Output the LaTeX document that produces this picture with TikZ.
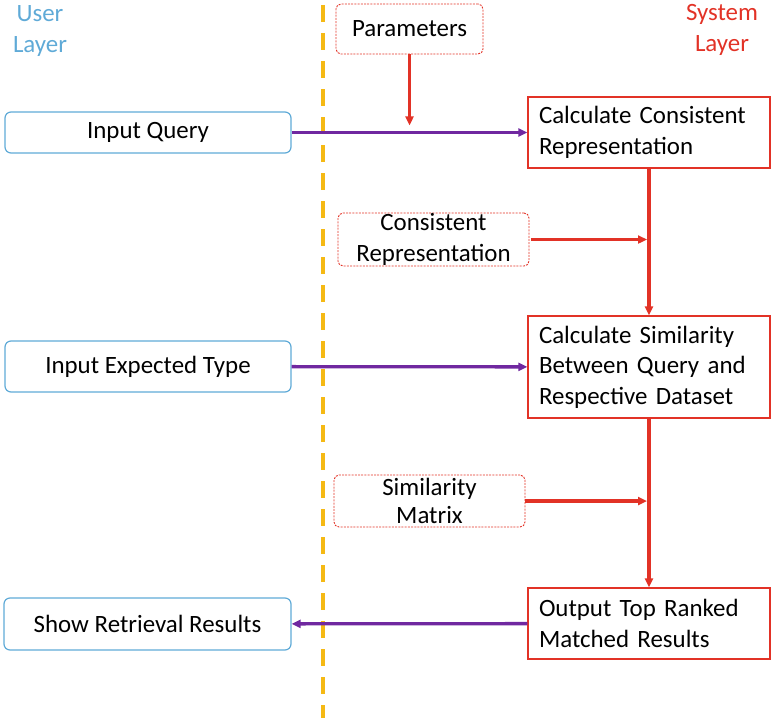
\documentclass[tikz,border=0pt]{standalone}
\usepackage{fontspec}
\setmainfont{Carlito}
\usetikzlibrary{arrows.meta,positioning}
\definecolor{sysred}{RGB}{226,50,38}
\definecolor{userblue}{RGB}{95,170,215}
\definecolor{linkpurple}{RGB}{112,40,160}
\definecolor{layerorange}{RGB}{245,185,20}

\begin{document}
\begin{tikzpicture}[x=1bp,y=-1bp,
    font=\fontsize{25}{30.5}\selectfont,
    userbox/.style={draw=userblue,line width=1.2bp,rounded corners=6bp,minimum width=286bp},
    sysbox/.style={draw=sysred,line width=1.2bp,text width=220bp,inner xsep=11bp,align=left,minimum width=242bp},
    databox/.style={draw=sysred,line width=0.9bp,dash pattern=on 2bp off 1.2bp,rounded corners=5bp,align=center,inner sep=0pt},
    redflow/.style={draw=sysred,line width=3.3bp,-{Triangle[length=9bp,width=8bp]}},
    userflow/.style={draw=linkpurple,line width=3.3bp,-{Triangle[length=9bp,width=8bp]}},
    layerline/.style={draw=layerorange,line width=3.6bp,dash pattern=on 17bp off 11bp}
]
\useasboundingbox (0,0) rectangle (771,720);

% layer titles and separator
\node[text=userblue,align=center] (userlayer) at (40,31) {User\\Layer};
\node[text=sysred,align=center] (syslayer) at (722,30) {System\\Layer};
\draw[layerline] (323,5) -- (323,718);

% user side
\node[userbox,minimum height=41bp] (query) at (148,132.5) {Input Query};
\node[userbox,minimum height=51bp] (expect) at (148,366.5) {Input Expected Type};
\node[userbox,minimum height=52bp,minimum width=287bp] (show) at (147.5,624) {Show Retrieval Results};

% system side
\node[sysbox,minimum height=71bp] (calc1) at (649,132.5) {Calculate Consistent\\Representation};
\node[sysbox,minimum height=102bp] (calc2) at (649,367) {Calculate Similarity\\Between Query and\\Respective Dataset};
\node[sysbox,minimum height=71bp] (output) at (649,623.5) {Output Top Ranked\\Matched Results};

% data
\node[databox,minimum width=147bp,minimum height=50bp] (params) at (409.5,29) {Parameters};
\node[databox,minimum width=191bp,minimum height=53bp] (cons) at (433.5,239.5) {Consistent\\Representation};
\node[databox,minimum width=191bp,minimum height=52bp,font=\fontsize{25}{28}\selectfont] (simmat) at (429.5,501) {Similarity\\Matrix};

% flows
\draw[redflow,shorten >=7bp] (params.south) -- (params.south |- query.east);
\draw[userflow] (query) -- (calc1);
\draw[redflow] (calc1) -- (calc2);
\draw[redflow,shorten <=2bp,shorten >=2bp] (cons) -- (cons -| calc1.south);
\draw[userflow] (expect) -- (calc2);
\draw[redflow] (calc2) -- (output);
\draw[redflow,shorten >=2bp] (simmat) -- (simmat -| calc2.south);
\draw[userflow] (output) -- (show);
\end{tikzpicture}
\end{document}
